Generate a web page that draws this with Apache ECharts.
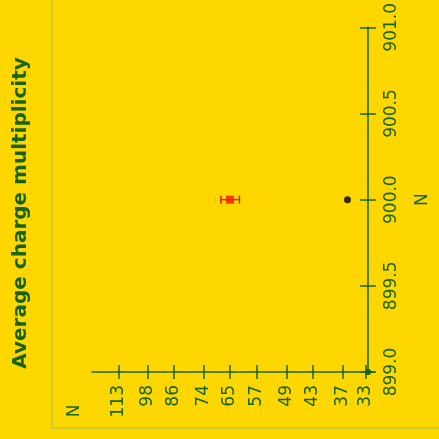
<!DOCTYPE html>
<html>
<head>
<meta charset="utf-8">
<script src="https://cdn.jsdelivr.net/npm/echarts@6/dist/echarts.min.js"></script>
<style>
  html, body { margin: 0; padding: 0; background: #FFD700; }
  #chart { width: 439px; height: 439px; }
</style>
</head>
<body>
<div id="chart"></div>
<script>
// Multiplicity axis: log-spaced tick labels
const multTicks = [33, 37, 43, 49, 57, 65, 74, 86, 98, 113];
const multRange = [31.56, 129.2];
// Energy axis ticks
const energyTicks = [899.0, 899.5, 900.0, 900.5, 901.0];

// Measurements
const blackEnergy = [900.0];
const blackMult = [36.2];
const redEnergy = [900.0];
const redMult = [65];
const redErr = [3];

const ink = '#176410';
const font = 'DejaVu Sans';

const ln = Math.log;

const blackData = blackEnergy.map((e, i) => [ln(blackMult[i]), e]);
const redData = redEnergy.map((e, i) => [ln(redMult[i]), e]);
const redErrData = redEnergy.map((e, i) => [ln(redMult[i] - redErr[i]), ln(redMult[i] + redErr[i]), e]);

function multAxis(inside, showLabel) {
  return {
    type: 'value', inverse: true, position: 'bottom',
    min: ln(multRange[0]), max: ln(multRange[1]),
    splitLine: { show: false },
    axisLine: { show: showLabel, onZero: false, lineStyle: { color: ink, width: 1.5 } },
    axisTick: { show: true, inside: inside, length: 7, customValues: multTicks.map(ln),
                lineStyle: { color: ink, width: 1.5 } },
    axisLabel: { show: showLabel, rotate: 90, margin: 13, customValues: multTicks.map(ln),
                 formatter: v => String(Math.round(Math.exp(v))),
                 color: ink, fontFamily: font, fontSize: 17 }
  };
}

function energyAxis(inside, showLabel) {
  return {
    type: 'value', position: 'right', offset: -7,
    min: energyTicks[0], max: energyTicks[energyTicks.length - 1], interval: 0.5,
    splitLine: { show: false },
    name: showLabel ? 'N' : '', nameLocation: 'middle', nameRotate: 90, nameGap: 46,
    nameTextStyle: { color: ink, fontFamily: font, fontSize: 17 },
    axisLine: { show: showLabel, onZero: false, symbol: ['circle', 'none'], symbolSize: [6, 6],
                lineStyle: { color: ink, width: 1.5 } },
    axisTick: { show: true, inside: inside, length: 8, lineStyle: { color: ink, width: 1.5 } },
    axisLabel: { show: showLabel, rotate: 90, margin: 15,
                 formatter: v => v.toFixed(1),
                 color: ink, fontFamily: font, fontSize: 17 }
  };
}

const chart = echarts.init(document.getElementById('chart'));
chart.setOption({
  backgroundColor: '#FFD700',
  animation: false,
  grid: { left: 92, right: 64, top: 27, bottom: 67 },
  xAxis: [multAxis(false, true), multAxis(true, false)],
  yAxis: [energyAxis(false, true), energyAxis(true, false)],
  graphic: [
    { type: 'rect', z: -1, shape: { x: 52, y: -5, width: 400, height: 433 },
      style: { fill: 'none', stroke: '#bfcc38', lineWidth: 1.5 } },
    { type: 'text', x: 21, y: 213, rotation: Math.PI / 2,
      style: { text: 'Average charge multiplicity', align: 'center', verticalAlign: 'middle',
               fill: ink, font: 'bold 20px "DejaVu Sans"' } },
    { type: 'text', x: 75, y: 411, rotation: Math.PI / 2,
      style: { text: 'N', align: 'center', verticalAlign: 'middle',
               fill: ink, font: '17px "DejaVu Sans"' } }
  ],
  series: [
    {
      type: 'custom', name: 'err', xAxisIndex: 0, yAxisIndex: 0,
      data: redErrData,
      renderItem: function (params, api) {
        const lo = api.coord([api.value(0), api.value(2)]);
        const hi = api.coord([api.value(1), api.value(2)]);
        const c = 4;
        const st = { stroke: '#e8200a', lineWidth: 1.5 };
        return { type: 'group', children: [
          { type: 'line', shape: { x1: lo[0], y1: lo[1], x2: hi[0], y2: hi[1] }, style: st },
          { type: 'line', shape: { x1: lo[0], y1: lo[1] - c, x2: lo[0], y2: lo[1] + c }, style: st },
          { type: 'line', shape: { x1: hi[0], y1: hi[1] - c, x2: hi[0], y2: hi[1] + c }, style: st }
        ] };
      }
    },
    { type: 'scatter', xAxisIndex: 0, yAxisIndex: 0, data: redData,
      symbol: 'rect', symbolSize: 8, itemStyle: { color: '#f01808' } },
    { type: 'scatter', xAxisIndex: 0, yAxisIndex: 0, data: blackData,
      symbol: 'circle', symbolSize: 7, itemStyle: { color: '#000000' } }
  ]
});
</script>
</body>
</html>
